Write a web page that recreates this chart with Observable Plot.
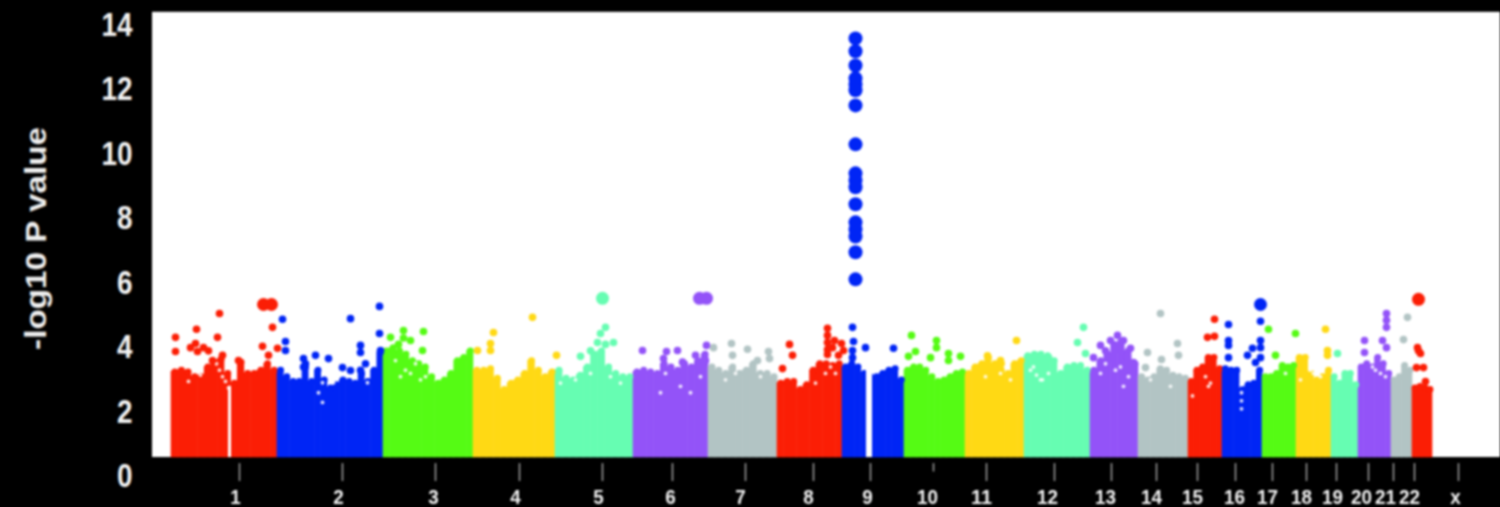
<!DOCTYPE html>
<html><head><meta charset="utf-8">
<script src="https://cdn.jsdelivr.net/npm/d3@7"></script>
<script src="https://cdn.jsdelivr.net/npm/@observablehq/plot@0.6"></script>
<style>html,body{margin:0;padding:0;background:#000;overflow:hidden}svg{display:block;filter:blur(1px)}</style>
</head><body><div id="c"></div>
<script>
const chromNames=["1","2","3","4","5","6","7","8","9","10","11","12","13","14","15","16","17","18","19","20","21","22"];
const chromStart=[171,277,383,473,555,633,708,777,842,904,965,1024,1090,1138,1188,1222,1262,1296,1331,1358,1391,1412];
const chromEnd=[277,383,473,555,633,708,777,842,904,965,1024,1090,1138,1188,1222,1262,1296,1331,1358,1391,1412,1432];
const palette=["#fb1e05","#0025f5","#55fb14","#ffd914","#66fdb2","#9353f8","#b2c4c4"];
const tops=[
[3.25,3.3,3.25,3.1,3.1,3.4,3.55,3.65,3.2,2.9,3.55,3.2,3.2,3.3,3.5,3.3],
[3.3,3.1,2.95,2.95,3.4,2.95,3.3,3.0,2.75,2.85,3.0,2.95,2.9,3.2,2.95,3.3,3.85],
[3.9,4.0,3.9,3.8,3.6,3.5,3.4,3.1,2.9,3.0,3.2,3.6,3.7,3.9],
[3.3,3.3,3.35,3.05,2.7,2.9,3.0,3.2,3.6,3.3,3.1,3.25],
[3.3,3.05,3.0,3.15,3.4,3.8,3.9,3.4,3.2,3.1,3.1],
[3.25,3.3,3.25,3.2,3.5,3.4,3.3,3.5,3.4,3.6,3.8],
[3.4,3.3,3.2,3.4,3.2,3.3,3.5,3.2,3.2,3.1],
[2.9,2.95,2.95,2.7,2.85,3.3,3.5,3.5,3.45,3.5],
[3.4,3.5,3.4,3.2,3.1,3.1,3.2,3.3,3.35,3.0],
[3.3,3.4,3.4,3.3,3.1,2.95,3.0,3.1,3.2,3.25],
[3.2,3.4,3.5,3.7,3.5,3.5,3.2,3.5,3.6],
[3.75,3.8,3.8,3.75,3.6,3.2,3.4,3.45,3.45,3.3],
[3.3,3.6,3.8,4.1,4.2,3.9,3.5],
[3.1,3.0,3.1,3.35,3.3,3.15,3.1,3.05],
[2.95,3.3,3.4,3.7,3.7,3.35],
[3.35,3.3,3.3,2.7,2.85,2.9,3.3],
[3.1,3.1,3.2,3.45,3.4,3.45],
[3.7,3.7,3.2,3.0,3.1,3.3],
[3.1,2.9,3.2,3.2,2.85],
[3.4,3.5,3.4,3.7,3.5,3.2],
[3.0,3.1,3.45,3.3],
[2.75,2.8,2.75,2.7]];
const hits=[
[[175,4.32],[175,3.88],[196,4.57],[219,5.06],[217,4.32],[195,4.13],[197,3.88],[203,4.0],[222,3.76],[272,4.63],[262,4.04],[277,3.98],[268,3.76],[212,3.6],[238,3.6],[208,3.9],[190,4.0]],
[[282,4.88],[285,4.19],[285,3.91],[350,4.9],[360,4.07],[360,3.85],[379,5.28],[379,4.44],[303,3.66],[303,3.4],[315,3.76],[328,3.66],[305,3.5],[380,3.91],[342,3.38],[350,3.29],[360,3.3],[365,3.5]],
[[403,4.53],[423,4.5],[390,4.32],[422,3.91],[410,4.22],[398,4.1],[403,4.3]],
[[532,4.94],[493,4.47],[490,4.13],[490,3.91],[477,3.91],[556,3.76]],
[[605,4.63],[600,4.44],[613,4.16],[597,4.16],[580,3.73],[605,4.1],[590,3.9]],
[[642,3.91],[666,3.88],[677,3.91],[706,4.07],[695,3.76],[663,3.66],[705,3.6],[682,3.55]],
[[731,4.13],[747,3.95],[768,3.88],[713,4.0],[732,3.76],[757,3.6],[769,3.66]],
[[789,4.1],[792,3.76],[782,3.35],[827,4.6],[827,4.38],[827,4.16],[827,3.94],[827,3.79],[834,4.22],[841,4.13],[843,3.91],[838,3.76],[832,4.0]],
[[852,4.63],[853,4.19],[865,4.0],[893,3.98],[852,3.91],[852,3.69]],
[[911,4.38],[936,4.22],[936,4.0],[915,3.88],[930,3.69],[948,3.82],[948,3.6],[960,3.73],[908,3.73]],
[[1016,4.22],[987,3.75],[1000,3.6]],
[[1083,4.63],[1077,4.16],[1085,3.82],[1035,3.75],[1048,3.7]],
[[1093,3.69],[1100,4.07],[1110,4.22],[1117,4.38],[1123,4.22],[1130,3.98],[1110,3.69],[1120,3.91],[1133,3.54],[1105,3.9],[1127,3.7]],
[[1160,5.06],[1147,3.85],[1161,3.63],[1177,4.13],[1178,3.76],[1145,3.38]],
[[1214,4.88],[1207,4.32],[1214,4.35]],
[[1228,4.72],[1228,4.22],[1228,4.07],[1228,3.69],[1260,4.82],[1260,4.22],[1260,4.0],[1260,3.69],[1252,3.98],[1247,3.76],[1255,3.54]],
[[1268,4.57],[1275,3.76],[1295,4.44]],
[[1325,4.57],[1327,3.91],[1327,3.76]],
[[1337,3.82]],
[[1364,4.22],[1364,3.85],[1382,4.22],[1386,4.0],[1386,5.06],[1386,4.85],[1386,4.63]],
[[1407,4.94],[1403,4.25]],
[[1417,4.0],[1420,3.82],[1416,3.38],[1423,3.38],[1425,2.95],[1418,3.9]]];
const largeX=[263,271,602,699,706,1260,1418];
const largeV=[5.34,5.34,5.53,5.53,5.53,5.34,5.5];
const largeChrom=[0,0,4,5,5,15,21];
const peakX=855;
const peakV=[13.6,13.2,12.76,12.36,12.17,11.99,11.52,10.31,9.41,9.19,8.98,8.45,7.89,7.67,7.45,6.96,6.12];
const speckX=[322,322,318,333,367,216,219,222,225,228,200,188,1030,1036,1042,1048,1105,1120,1123,1205,1208,1241,1241,1241,1241,1300,1310,1320,1375,1385,700,690,680,665,660,800,830,835,497,505,410,420,430,1000,985,1210,1033,1040,1380,1372,1320,1313,1005,1010,760,735,725,1285,395,405,415,425,400,560,575,590,610,620,815,825,1245,1248,1100,1115,1128,1150,1170,1192];
const speckV=[2.91,2.3,2.6,2.91,2.91,3.5,3.3,3.1,2.95,2.75,3.15,2.95,3.3,3.15,3.0,3.2,3.5,3.4,2.8,3.1,2.8,2.85,2.6,2.35,2.1,3.0,3.3,3.4,3.3,3.1,3.1,2.6,2.8,3.2,2.6,3.2,3.4,3.2,3.3,3.0,3.2,3.0,3.3,3.2,3.1,2.9,3.4,3.0,3.2,3.4,3.1,3.2,3.4,3.0,3.1,3.2,3.0,3.2,3.6,3.3,3.5,3.1,3.1,2.9,3.0,3.2,3.1,2.9,2.9,3.2,3.1,3.4,3.2,3.3,3.1,3.0,2.8,2.5];
const gapX1=[228,866],gapX2=[231,872],gapTop=[2.8,3.6];
const yTicks=[0,2,4,6,8,10,12,14];
const xTickLabels=[...chromNames,"x"];
const xTickPos=[239,342,435,519,602,672,745,813,870,933,986,1054,1111,1156,1197,1235,1272,1306,1336,1368,1393,1414,1458];
const xTickEnd=[-.155,-.155,-.155,-.155,-.155,-.155,-.155,-.155,-.155,.14,-.155,-.155,-.155,-.155,-.155,-.155,-.155,-.155,-.155,-.155,-.155,-.155,-.155];
const xLabelPos=[235,338,433,515,598,670,740,808,867,927,981,1047,1105,1151,1192,1234,1267,1301,1332,1361,1385,1409,1455];

const colorOf=i=>palette[i%7];
const steps=tops.flatMap((t,i)=>{const w=(chromEnd[i]-chromStart[i])/t.length;
  return t.map((v,j)=>({x1:chromStart[i]+j*w,x2:chromStart[i]+(j+1)*w,x:chromStart[i]+(j+.5)*w,v,fill:colorOf(i)}));});
const hitRows=hits.flatMap((h,i)=>h.map(([x,v])=>({x,v,fill:colorOf(i)})));
const big=largeX.map((x,i)=>({x,v:largeV[i],fill:colorOf(largeChrom[i])}));
const floor=.59;
const labelFont="'Liberation Sans',sans-serif";
const chart=Plot.plot({
  width:1500,height:507,marginLeft:152,marginRight:0,marginTop:0,marginBottom:0,
  style:{background:"#000",fontFamily:labelFont,overflow:"visible"},
  x:{domain:[152,1500],range:[152,1500],axis:null},
  y:{domain:[0,14],range:[476,25],axis:null},
  marks:[
    Plot.rect([0],{x1:152,x2:1500,y1:floor,y2:14.41,fill:"#fff"}),
    Plot.rect(steps,{x1:"x1",x2:"x2",y1:floor,y2:"v",fill:d=>d.fill,inset:-.3}),
    Plot.dot(steps,{x:"x",y:"v",r:3.4,fill:d=>d.fill}),
    Plot.rect(gapX1,{x1:d=>d,x2:(d,i)=>gapX2[i],y1:floor,y2:(d,i)=>gapTop[i],fill:"#fff"}),
    Plot.dot(speckX,{x:d=>d,y:(d,i)=>speckV[i],r:1.9,fill:"#fff",fillOpacity:.85}),
    Plot.dot(hitRows,{x:"x",y:"v",r:3.8,fill:d=>d.fill}),
    Plot.dot(big,{x:"x",y:"v",r:6.5,fill:d=>d.fill}),
    Plot.dot(peakV,{x:()=>peakX,y:d=>d,r:7,fill:palette[1]}),
    Plot.axisY(yTicks,{anchor:"left",tickSize:0,tickPadding:20,fill:"#f2f2f2",fontSize:33,fontWeight:"bold",label:null,className:"ylabels"}),
    Plot.text(["-log10 P value"],{x:()=>36,y:()=>7.39,rotate:-90,fill:"#eee",fontSize:30,fontWeight:"bold",className:"ytitle"}),
    Plot.ruleX(xTickPos,{x:d=>d,y1:.4,y2:(d,i)=>xTickEnd[i],stroke:"#aaa",strokeWidth:1.4}),
    Plot.text(xTickLabels,{x:(d,i)=>xLabelPos[i],y:()=>-.64,text:d=>d,fill:"#f2f2f2",fontSize:21,fontWeight:"bold",className:"xlabels"})
  ]
});
document.getElementById("c").append(chart);
d3.select(chart).selectAll(".ylabels text").each(function(){const n=this.textContent.length;
  this.setAttribute("textLength",n*15.5);this.setAttribute("lengthAdjust","spacingAndGlyphs");});
d3.select(chart).selectAll(".ytitle text").attr("textLength",223).attr("lengthAdjust","spacingAndGlyphs");
d3.select(chart).selectAll(".xlabels text").each(function(){const n=this.textContent.length;
  this.setAttribute("textLength",n*10.5);this.setAttribute("lengthAdjust","spacingAndGlyphs");});
</script></body></html>
